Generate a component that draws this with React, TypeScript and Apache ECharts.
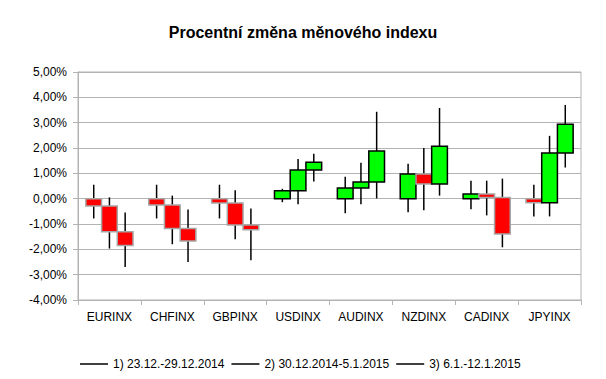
import React, { useEffect, useRef } from "react";
import * as echarts from "echarts";

const categories = ["EURINX", "CHFINX", "GBPINX", "USDINX", "AUDINX", "NZDINX", "CADINX", "JPYINX"];
const seriesNames = ["1) 23.12.-29.12.2014", "2) 30.12.2014-5.1.2015", "3) 6.1.-12.1.2015"];

// each entry: [open, close, low, high] in %
const week1 = [
  [0, -0.29, -0.78, 0.55],
  [0, -0.25, -0.78, 0.55],
  [0, -0.17, -0.78, 0.55],
  [0, 0.31, -0.14, 0.39],
  [0, 0.42, -0.58, 0.87],
  [0, 0.97, -0.54, 1.38],
  [0, 0.18, -0.42, 0.71],
  [0, -0.16, -0.7, 0.55],
];
const week2 = [
  [-0.29, -1.31, -1.97, 0.05],
  [-0.25, -1.18, -1.8, 0.12],
  [-0.17, -1.04, -1.6, 0.33],
  [0.31, 1.13, -0.22, 1.57],
  [0.42, 0.66, -0.22, 1.42],
  [0.97, 0.58, -0.46, 2.0],
  [0.18, 0.05, -0.66, 0.71],
  [-0.16, 1.8, -0.7, 2.48],
];
const week3 = [
  [-1.31, -1.85, -2.7, -0.55],
  [-1.18, -1.67, -2.5, -0.43],
  [-1.04, -1.23, -2.43, -0.39],
  [1.13, 1.44, 0.68, 1.77],
  [0.66, 1.88, 0.01, 3.43],
  [0.58, 2.07, 0.12, 3.58],
  [0.05, -1.39, -1.92, 0.79],
  [1.8, 2.94, 1.23, 3.7],
];

const yMin = -4;
const yMax = 5;
const yStep = 1;

const allWeeks = [week1, week2, week3];

export default function App() {
  const ref = useRef<HTMLDivElement>(null);
  useEffect(() => {
    if (!ref.current) return;
    const chart = echarts.init(ref.current, null, { renderer: "svg" });
    const font = "'Liberation Sans', Arial, sans-serif";
    const grey = "#b3b3b3";

    const makeSeries = (idx: number) => ({
      type: "custom",
      name: seriesNames[idx],
      itemStyle: { color: "#000" },
      encode: { x: 0, y: [1, 2, 3, 4] },
      data: allWeeks[idx].map((d, i) => [i, d[0], d[1], d[2], d[3]]),
      renderItem: (params: any, api: any) => {
        const cat = api.value(0);
        const open = api.value(1);
        const close = api.value(2);
        const low = api.value(3);
        const high = api.value(4);
        const bw = api.size([1, 0])[0];
        const w = bw * 0.25;
        const center = api.coord([cat, 0])[0] + (idx - 1) * w;
        const pOpen = api.coord([cat, open])[1];
        const pClose = api.coord([cat, close])[1];
        const pLow = api.coord([cat, low])[1];
        const pHigh = api.coord([cat, high])[1];
        const up = close >= open;
        const top = Math.min(pOpen, pClose);
        const h = Math.max(Math.abs(pOpen - pClose), 1);
        return {
          type: "group",
          children: [
            {
              type: "line",
              shape: { x1: center, y1: pHigh, x2: center, y2: pLow },
              style: { stroke: "#000", lineWidth: 1.5 },
            },
            {
              type: "rect",
              shape: { x: center - w / 2, y: top, width: w, height: h },
              style: {
                fill: up ? "#00ff00" : "#ff0000",
                stroke: up ? "#000000" : "#a6a6a6",
                lineWidth: 1.5,
              },
            },
          ],
        };
      },
    });

    chart.setOption({
      animation: false,
      title: {
        text: "Procentní změna měnového indexu",
        left: "center",
        top: 19,
        textStyle: { fontFamily: font, fontSize: 16, fontWeight: "bold", color: "#000" },
      },
      legend: {
        left: 75,
        top: 353,
        itemWidth: 28,
        itemHeight: 1.5,
        itemGap: 7,
        icon: "rect",
        textStyle: { fontFamily: font, fontSize: 12, color: "#000" },
        data: seriesNames.map((n) => ({ name: n, itemStyle: { color: "#000" } })),
      },
      grid: {
        left: 78,
        right: 25,
        top: 72,
        bottom: 79,
        show: true,
        borderColor: grey,
        borderWidth: 1,
      },
      xAxis: {
        type: "category",
        data: categories,
        boundaryGap: true,
        axisLine: { show: true, onZero: false, lineStyle: { color: grey } },
        axisTick: { show: true, length: 5, lineStyle: { color: grey } },
        axisLabel: { fontFamily: font, fontSize: 12, color: "#000", margin: 11 },
        splitLine: { show: false },
      },
      yAxis: {
        type: "value",
        min: yMin,
        max: yMax,
        interval: yStep,
        axisLine: { show: true, lineStyle: { color: grey } },
        axisTick: { show: true, length: 5, lineStyle: { color: grey } },
        axisLabel: {
          fontFamily: font,
          fontSize: 12,
          color: "#000",
          margin: 11,
          formatter: (v: number) => v.toFixed(2).replace(".", ",") + "%",
        },
        splitLine: { show: true, lineStyle: { color: grey } },
      },
      series: [makeSeries(0), makeSeries(1), makeSeries(2)],
    });
    return () => chart.dispose();
  }, []);
  return <div ref={ref} style={{ position: "fixed", left: 0, top: 0, width: 606, height: 379, background: "#fff" }} />;
}
